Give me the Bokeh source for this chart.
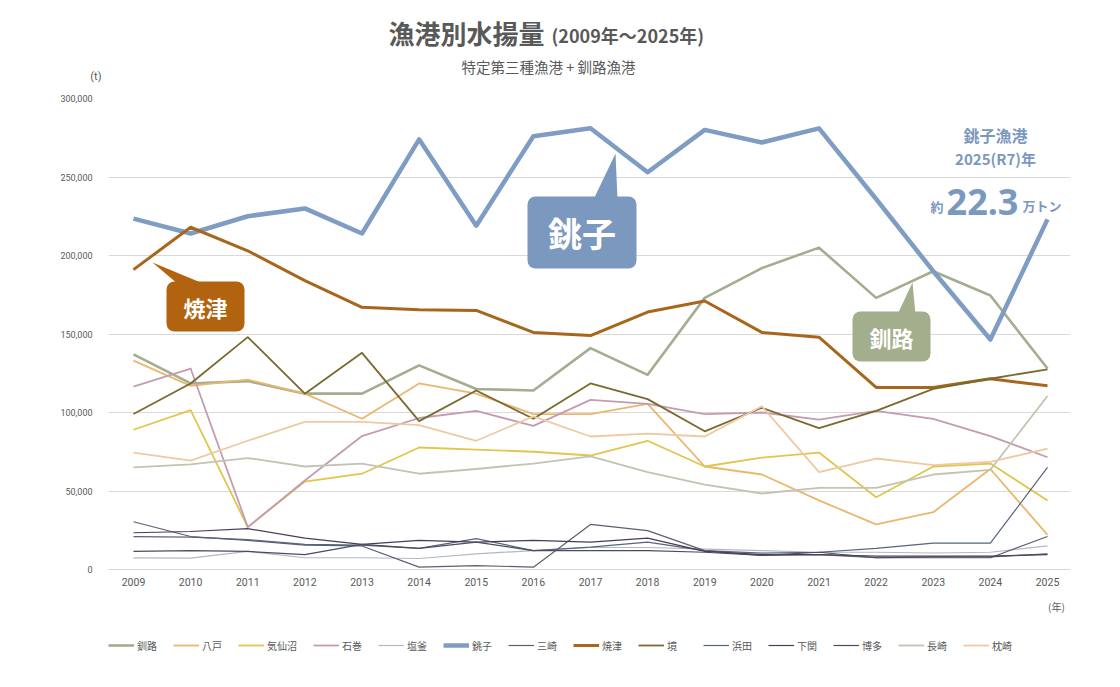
from bokeh.plotting import figure
from bokeh.layouts import column
from bokeh.models import (Range1d, FixedTicker, NumeralTickFormatter, Label, Legend, LegendItem,
                          BoxAnnotation, PolyAnnotation, LinearAxis)
from bokeh.embed import file_html
from bokeh.resources import INLINE

# Data (t)
years = list(range(2009, 2026))

kushiro = [137000, 118500, 120000, 112000, 112000, 130000, 115000, 114000, 141000, 124000,
           173000, 192000, 205000, 173000, 190000, 174500, 128000]
hachinohe = [133000, 117000, 121000, 112000, 96000, 118500, 112000, 99000, 99000, 105500,
             65600, 60500, 44000, 28700, 36500, 64000, 22000]
kesennuma = [89000, 101500, 27000, 56000, 61000, 77700, 76400, 75000, 72600, 82000,
             65600, 71300, 74500, 46000, 65600, 67500, 44000]
ishinomaki = [116500, 128000, 27000, 56700, 85000, 96500, 101000, 91500, 108000, 105500,
              99000, 100000, 95500, 101000, 96000, 85000, 71500]
shiogama = [7400, 7200, 11500, 7500, 7500, 7000, 10000, 12000, 14000, 14000,
            13000, 12000, 11000, 11000, 10500, 11000, 15000]
choshi = [223500, 214000, 225000, 230000, 214000, 274000, 219000, 276000, 281000, 253000,
          280000, 272000, 281000, 236000, 190000, 146500, 223000]
misaki = [30400, 21000, 18500, 15500, 15000, 1500, 2500, 1500, 28700, 24800,
          12000, 9000, 9500, 7500, 7500, 7500, 21000]
yaizu = [191000, 218000, 203000, 184000, 167000, 165500, 165000, 151000, 149000, 164000,
         171000, 151000, 148000, 116000, 116000, 121500, 117000]
sakai = [99000, 118500, 148000, 112000, 138000, 94500, 114000, 96000, 118500, 108500,
         88000, 103000, 90000, 101000, 115000, 121500, 127500]
hamada = [21000, 20600, 19000, 16000, 15500, 13400, 19700, 12000, 14200, 17400,
          12000, 10400, 11000, 13400, 16800, 16800, 65000]
shimonoseki = [23400, 24200, 26000, 20000, 16000, 18500, 17400, 18500, 17400, 20000,
               11500, 9500, 9500, 8500, 8500, 8500, 9500]
hakata = [11500, 12000, 11500, 9500, 16000, 13400, 17400, 12000, 12000, 12000,
          11000, 9000, 11000, 7500, 8000, 8000, 10000]
nagasaki = [65000, 67000, 71000, 65600, 67500, 61000, 64000, 67500, 72000, 62000,
            54000, 48400, 52000, 52000, 60500, 63500, 110500]
makurazaki = [74500, 69400, 82000, 94000, 94000, 92000, 82000, 97500, 84700, 86600,
              84700, 104000, 62000, 70700, 66500, 68500, 77000]

y_ticks = [0, 50000, 100000, 150000, 200000, 250000, 300000]

# name, values, colour, width
series = [
    ("釧路", kushiro, "#a3ad8f", 2.6),
    ("八戸", hachinohe, "#ebb66e", 1.8),
    ("気仙沼", kesennuma, "#e2c54c", 1.8),
    ("石巻", ishinomaki, "#c49bb0", 1.8),
    ("塩釜", shiogama, "#b4b8c4", 1.2),
    ("銚子", choshi, "#7f9cc3", 4.5),
    ("三崎", misaki, "#5e5e70", 1.2),
    ("焼津", yaizu, "#a8661c", 3.0),
    ("境", sakai, "#7a6a2e", 1.8),
    ("浜田", hamada, "#56647c", 1.2),
    ("下関", shimonoseki, "#4a3c58", 1.2),
    ("博多", hakata, "#4c4c5e", 1.2),
    ("長崎", nagasaki, "#c3c3b4", 1.8),
    ("枕崎", makurazaki, "#efc9a0", 1.8),
]

FONT = "Noto Sans CJK JP"
NUM_FONT = "Roboto"
GREY = "#595959"
BLUE = "#7b98bf"

W = 1104
H = 671
TOP_H = 93       # heading strip
MAIN_END = 595   # page y where the chart figure ends and the legend strip starts
# frame position on the page (all strips share it), used only to place annotations
FL, FR, FT, FB = 108, 1070, 98, 569
X0, X1 = 2008.5625, 2025.4026


def sx(px):
    return px - FL


def sy(py):
    return FB - py


def dx(px):
    return X0 + (px - FL) / (FR - FL) * (X1 - X0)


def dy(py):
    return (FB - py) / (FB - FT) * 300000


def strip(height):
    f = figure(width=W, height=height, x_range=Range1d(0, 1), y_range=Range1d(0, 1),
               x_axis_type=None, y_axis_type=None, output_backend="svg",
               toolbar_location=None, min_border=0)
    f.outline_line_color = None
    f.grid.visible = False
    return f


def strip_label(f, bottom, px, py, text, size, align="center", bold=False, font=FONT):
    f.add_layout(Label(x=px - FL, y=bottom - py, x_units="screen", y_units="screen", text=text,
                       text_font=font, text_font_size=size,
                       text_font_style="bold" if bold else "normal", text_color=GREY,
                       text_align=align, text_baseline="middle"))


# heading strip
head = strip(TOP_H)
strip_label(head, TOP_H, 544, 32, "漁港別水揚量", "26px", align="right", bold=True)
strip_label(head, TOP_H, 551, 34, "(2009年～2025年)", "18px", align="left", bold=True)
strip_label(head, TOP_H, 548, 66, "特定第三種漁港 + 釧路漁港", "14.5px")
# unit mark sits left of the frame, so it is drawn as the strip's axis label
unit_axis = LinearAxis(ticker=FixedTicker(ticks=[(TOP_H - 76) / TOP_H]),
                       major_label_overrides={(TOP_H - 76) / TOP_H: "(t)"},
                       axis_line_color=None, major_tick_line_color=None, major_tick_out=0,
                       minor_tick_line_color=None, major_label_standoff=7,
                       major_label_text_font=NUM_FONT, major_label_text_font_size="11px",
                       major_label_text_color=GREY)
head.add_layout(unit_axis, "left")

# chart
p = figure(width=W, height=MAIN_END - TOP_H, x_range=Range1d(X0, X1), y_range=Range1d(0, 300000),
           output_backend="svg", toolbar_location=None,
           min_border_left=FL, min_border_right=W - FR, min_border_top=FT - TOP_H,
           min_border_bottom=MAIN_END - FB)
p.outline_line_color = None
p.xgrid.visible = False
p.ygrid.ticker = FixedTicker(ticks=y_ticks)
p.ygrid.grid_line_color = "#d9d9d9"

p.xaxis.ticker = FixedTicker(ticks=years)
p.xaxis.axis_line_color = "#d9d9d9"
p.xaxis.major_tick_line_color = None
p.xaxis.major_tick_out = 0
p.xaxis.minor_tick_line_color = None
p.xaxis.major_label_standoff = 8
p.xaxis.major_label_text_font = NUM_FONT
p.xaxis.major_label_text_font_size = "10.5px"
p.xaxis.major_label_text_color = GREY

p.yaxis.ticker = FixedTicker(ticks=y_ticks)
p.yaxis.formatter = NumeralTickFormatter(format="0,0")
p.yaxis.axis_line_color = None
p.yaxis.major_tick_line_color = None
p.yaxis.major_tick_out = 0
p.yaxis.minor_tick_line_color = None
p.yaxis.major_label_standoff = 16
p.yaxis.major_label_text_font = NUM_FONT
p.yaxis.major_label_text_font_size = "9px"
p.yaxis.major_label_text_color = GREY

for name, vals, color, lw in series:
    p.line(years, vals, line_color=color, line_width=lw, line_join="round")


def callout(box, tip, color, text, size):
    left, top, right, bottom = box
    p.add_layout(BoxAnnotation(left=dx(left), right=dx(right), top=dy(top), bottom=dy(bottom),
                               fill_color=color, fill_alpha=1, line_color=None, border_radius=8))
    p.add_layout(PolyAnnotation(xs=[dx(x) for x, _ in tip], ys=[dy(y) for _, y in tip],
                                fill_color=color, fill_alpha=1, line_color=None))
    p.add_layout(Label(x=dx((left + right) / 2), y=dy((top + bottom) / 2), text=text,
                       text_font=FONT, text_font_size=size, text_font_style="bold",
                       text_color="white", text_align="center", text_baseline="middle"))


callout((527, 196, 636, 268), [(593, 199), (615, 153), (617, 199)], "#7b98bf", "銚子", "34px")
callout((166, 281, 244, 331), [(178, 284), (152, 262), (205, 284)], "#b2630f", "焼津", "22px")
callout((852, 311, 930, 361), [(897, 314), (912, 282), (915, 314)], "#a2ae8c", "釧路", "22px")


def note(px, py, text, size, align="center", font=FONT):
    p.add_layout(Label(x=sx(px), y=sy(py), x_units="screen", y_units="screen", text=text,
                       text_font=font, text_font_size=size, text_font_style="bold",
                       text_color=BLUE, text_align=align, text_baseline="middle"))


# 2025 note for 銚子
note(995, 134, "銚子漁港", "16px")
note(995, 158, "2025(R7)年", "15px")
note(943, 206, "約", "13px", align="right")
note(982, 201, "22.3", "36px", font="Noto Sans")
note(1022, 205, "万トン", "13px", align="left")

# legend strip: the same series, drawn out of this strip's view, only for the legend keys
foot_h = H - MAIN_END
foot = strip(foot_h)
strip_label(foot, H, 1056, 606, "(年)", "10px")
items = []
for name, vals, color, lw in series:
    r = foot.line(years, vals, line_color=color, line_width=lw)
    items.append(LegendItem(label=name, renderers=[r]))
legend = Legend(items=items, orientation="horizontal", location=(0, H - 655),
                glyph_width=26, glyph_height=20, label_standoff=3, spacing=16,
                padding=0, margin=0, border_line_color=None, background_fill_alpha=0,
                label_text_font=FONT, label_text_font_size="10px", label_text_color=GREY)
foot.add_layout(legend, "center")

layout = column(head, p, foot, spacing=0)
open("out.html", "w").write(file_html(layout, INLINE))
